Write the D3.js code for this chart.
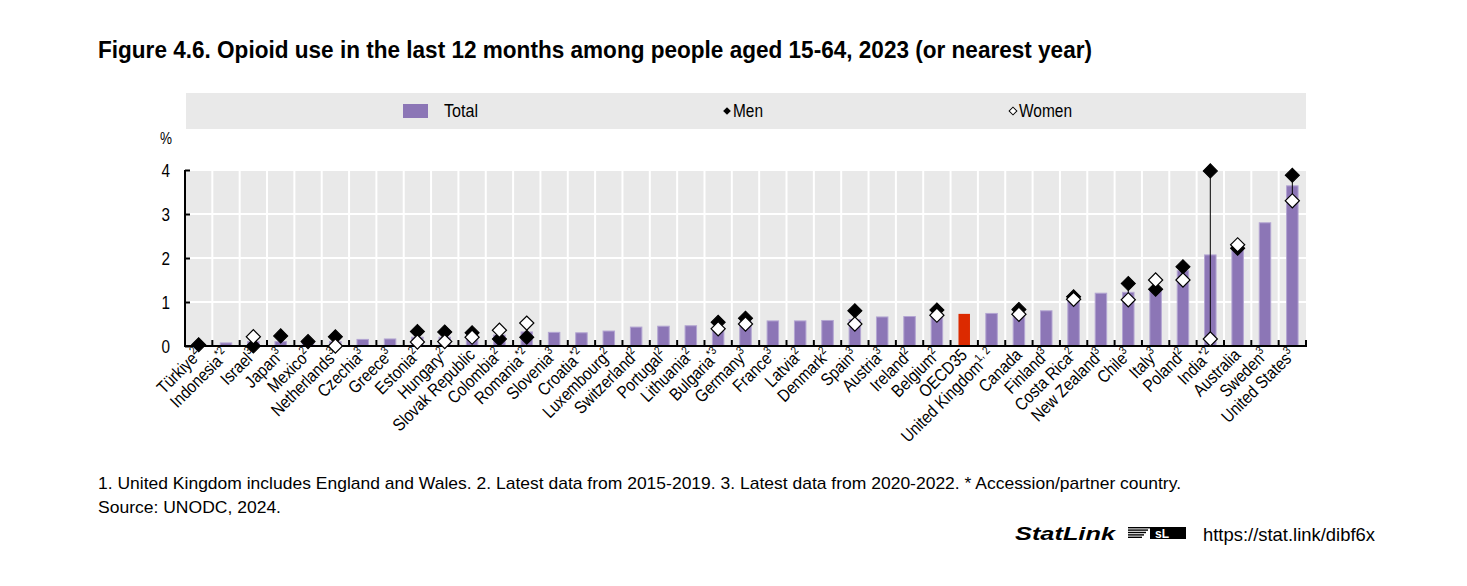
<!DOCTYPE html>
<html>
<head>
<meta charset="utf-8">
<script src="https://cdn.jsdelivr.net/npm/d3@7"></script>
<style>
  body { margin: 0; background: #fff; }
  svg text { font-family: "Liberation Sans", Arial, sans-serif; }
</style>
</head>
<body>
<svg id="chart" width="1467" height="586"></svg>
<script>
const countries = ["Türkiye", "Indonesia", "Israel", "Japan", "Mexico", "Netherlands", "Czechia", "Greece",
    "Estonia", "Hungary", "Slovak Republic", "Colombia", "Romania", "Slovenia", "Croatia", "Luxembourg",
    "Switzerland", "Portugal", "Lithuania", "Bulgaria", "Germany", "France", "Latvia", "Denmark", "Spain",
    "Austria", "Ireland", "Belgium", "OECD35", "United Kingdom", "Canada", "Finland", "Costa Rica",
    "New Zealand", "Chile", "Italy", "Poland", "India", "Australia", "Sweden", "United States"];
const notes = ["2", "*2", "3", "3", "2", "3", "3", "3", "2", "2", "", "2", "*2", "3", "*2", "2",
    "2", "2", "2", "*3", "3", "3", "2", "2", "3", "3", "2", "2", "", "1, 2", "", "3", "2",
    "3", "3", "3", "2", "*2", "", "3", "3"];
const total = [0.02, 0.07, 0.1, 0.1, 0.1, 0.1, 0.15, 0.16, 0.2, 0.2, 0.17, 0.25, 0.32, 0.31, 0.3, 0.34,
    0.43, 0.45, 0.46, 0.42, 0.55, 0.57, 0.57, 0.58, 0.6, 0.66, 0.67, 0.7, 0.73, 0.74, 0.7, 0.8, 1.06,
    1.2, 1.22, 1.3, 1.71, 2.07, 2.18, 2.8, 3.64];
const men = [0.03, null, 0.0, 0.23, 0.1, 0.21, null, null, 0.33, 0.32, 0.3, 0.16, 0.2, null, null, null,
    null, null, null, 0.54, 0.63, null, null, null, 0.8, null, null, 0.82, null, null, 0.83, null, 1.12,
    null, 1.42, 1.29, 1.8, 3.98, 2.22, null, 3.88];
const women = [null, null, 0.21, null, null, 0.0, null, null, 0.09, 0.1, 0.2, 0.36, 0.52, null, null, null,
    null, null, null, 0.39, 0.5, null, null, null, 0.5, null, null, 0.7, null, null, 0.72, null, 1.06,
    null, 1.05, 1.5, 1.5, 0.16, 2.3, null, 3.3];
const yTicks = [0, 1, 2, 3, 4];

const rows = countries.map((c, i) => ({name: c, note: notes[i], total: total[i], men: men[i], women: women[i]}));

const svg = d3.select("#chart");
const pLeft = 185, pRight = 1306, pTop = 170, pBottom = 346;

const x = d3.scaleBand().domain(countries).range([pLeft, pRight]).padding(0);
const y = d3.scaleLinear().domain([0, 4]).range([pBottom, pTop]);

// title (narrow face imitated with textLength)
svg.append("text")
    .attr("x", 98).attr("y", 58)
    .attr("font-size", 24).attr("font-weight", "bold")
    .attr("textLength", 994).attr("lengthAdjust", "spacingAndGlyphs")
    .text("Figure 4.6. Opioid use in the last 12 months among people aged 15-64, 2023 (or nearest year)");

// legend
svg.append("rect").attr("x", 186).attr("y", 93).attr("width", 1120).attr("height", 36).attr("fill", "#e9e9e9");
svg.append("rect").attr("x", 403).attr("y", 104).attr("width", 25).attr("height", 14).attr("fill", "#8c76b6");
svg.append("text").attr("x", 444).attr("y", 117).attr("font-size", 17.5)
    .attr("textLength", 34).attr("lengthAdjust", "spacingAndGlyphs").text("Total");
const diamond = d3.symbol().type(d3.symbolSquare);
svg.append("path").attr("d", diamond.size(30)()).attr("transform", "translate(727,111) rotate(45)")
    .attr("fill", "#000");
svg.append("text").attr("x", 733).attr("y", 117).attr("font-size", 17.5)
    .attr("textLength", 30).attr("lengthAdjust", "spacingAndGlyphs").text("Men");
svg.append("path").attr("d", diamond.size(30)()).attr("transform", "translate(1013,111) rotate(45)")
    .attr("fill", "#fff").attr("stroke", "#000").attr("stroke-width", 1);
svg.append("text").attr("x", 1019).attr("y", 117).attr("font-size", 17.5)
    .attr("textLength", 53).attr("lengthAdjust", "spacingAndGlyphs").text("Women");

// plot background and grid
svg.append("rect").attr("x", pLeft).attr("y", pTop).attr("width", pRight - pLeft).attr("height", pBottom - pTop)
    .attr("fill", "#e9e9e9");
svg.append("g").selectAll("line").data(yTicks.slice(1)).join("line")
    .attr("x1", pLeft).attr("x2", pRight).attr("y1", d => y(d)).attr("y2", d => y(d))
    .attr("stroke", "#fff").attr("stroke-width", 2);
svg.append("g").selectAll("line").data(countries.slice(1)).join("line")
    .attr("x1", d => x(d)).attr("x2", d => x(d)).attr("y1", pTop).attr("y2", pBottom)
    .attr("stroke", "#fff").attr("stroke-width", 2);

// bars
const bw = x.bandwidth() * 0.42;
svg.append("g").selectAll("rect").data(rows).join("rect")
    .attr("x", d => x(d.name) + (x.bandwidth() - bw) / 2)
    .attr("y", d => y(d.total))
    .attr("width", bw)
    .attr("height", d => y(0) - y(d.total))
    .attr("fill", d => d.name === "OECD35" ? "#dc2a00" : "#8c76b6")
    .attr("stroke", d => d.name === "OECD35" ? "none" : "#b3a5d2")
    .attr("stroke-width", 1);

// y axis
const yAxis = svg.append("g").attr("transform", `translate(${pLeft},0)`)
    .call(d3.axisLeft(y).tickValues(yTicks).tickSize(-5).tickPadding(15).tickFormat(d3.format("d")));
yAxis.attr("font-family", null);
yAxis.select(".domain").attr("stroke", "#000").attr("stroke-width", 2).attr("d", `M0,${pTop}V${pBottom}`);
yAxis.selectAll(".tick line").attr("stroke", "#000").attr("stroke-width", 2);
yAxis.selectAll(".tick text").attr("font-size", 19).attr("fill", "#000")
    .attr("textLength", 8.5).attr("lengthAdjust", "spacingAndGlyphs");
svg.append("text").attr("x", 160).attr("y", 144).attr("font-size", 17)
    .attr("textLength", 12).attr("lengthAdjust", "spacingAndGlyphs").text("%");

// x axis line and ticks
svg.append("line").attr("x1", pLeft - 1).attr("x2", pRight + 1).attr("y1", pBottom).attr("y2", pBottom)
    .attr("stroke", "#000").attr("stroke-width", 2);
svg.append("g").selectAll("line").data(countries.concat(["end"])).join("line")
    .attr("x1", d => d === "end" ? pRight : x(d)).attr("x2", d => d === "end" ? pRight : x(d))
    .attr("y1", pBottom).attr("y2", pBottom - 6)
    .attr("stroke", "#000").attr("stroke-width", 2);

// men-women connectors
const both = rows.filter(d => d.men != null && d.women != null);
svg.append("g").selectAll("line").data(both).join("line")
    .attr("x1", d => x(d.name) + x.bandwidth() / 2).attr("x2", d => x(d.name) + x.bandwidth() / 2)
    .attr("y1", d => y(d.men)).attr("y2", d => y(d.women))
    .attr("stroke", "#000").attr("stroke-width", 1);

// men diamonds
svg.append("g").selectAll("path").data(rows.filter(d => d.men != null)).join("path")
    .attr("d", diamond.size(100)())
    .attr("transform", d => `translate(${x(d.name) + x.bandwidth() / 2},${y(d.men)}) rotate(45)`)
    .attr("fill", "#000").attr("stroke", "#000").attr("stroke-width", 1);

// women diamonds
svg.append("g").selectAll("path").data(rows.filter(d => d.women != null)).join("path")
    .attr("d", diamond.size(100)())
    .attr("transform", d => `translate(${x(d.name) + x.bandwidth() / 2},${y(d.women)}) rotate(45)`)
    .attr("fill", "#fff").attr("stroke", "#000").attr("stroke-width", 1.2);

// category labels
const lab = svg.append("g").selectAll("text").data(rows).join("text")
    .attr("transform", d => `translate(${x(d.name) + x.bandwidth() / 2 + 4},${pBottom + 10}) rotate(-45) scale(0.86,1)`)
    .attr("text-anchor", "end")
    .attr("font-size", 17.5);
lab.append("tspan").text(d => d.name);
lab.filter(d => d.note).append("tspan").attr("dy", -7).attr("font-size", 11.5).text(d => d.note);

// notes
svg.append("text").attr("x", 98).attr("y", 489).attr("font-size", 17)
    .attr("textLength", 1083).attr("lengthAdjust", "spacingAndGlyphs")
    .text("1. United Kingdom includes England and Wales. 2. Latest data from 2015-2019. 3. Latest data from 2020-2022. * Accession/partner country.");
svg.append("text").attr("x", 98).attr("y", 513).attr("font-size", 17)
    .attr("textLength", 183).attr("lengthAdjust", "spacingAndGlyphs")
    .text("Source: UNODC, 2024.");

// statlink
svg.append("text").attr("x", 1015).attr("y", 540).attr("font-size", 18).attr("font-style", "italic")
    .attr("font-weight", "bold").attr("font-family", "'DejaVu Sans', sans-serif")
    .attr("textLength", 100).attr("lengthAdjust", "spacingAndGlyphs").text("StatLink");
const logo = svg.append("g").attr("transform", "translate(1128,527)");
logo.selectAll("rect.s").data([0, 1, 2, 3, 4]).join("rect")
    .attr("x", 0).attr("y", d => d * 2.4).attr("width", d => 22 - d * 2).attr("height", 1.4).attr("fill", "#000");
logo.append("rect").attr("x", 22).attr("y", 0).attr("width", 36).attr("height", 12).attr("fill", "#000");
logo.append("text").attr("x", 27).attr("y", 11).attr("font-size", 12).attr("font-weight", "bold")
    .attr("fill", "#fff").attr("font-family", "'DejaVu Sans', sans-serif").text("sL");
svg.append("text").attr("x", 1203).attr("y", 541).attr("font-size", 19)
    .attr("textLength", 172).attr("lengthAdjust", "spacingAndGlyphs").text("https://stat.link/dibf6x");
</script>
</body>
</html>
